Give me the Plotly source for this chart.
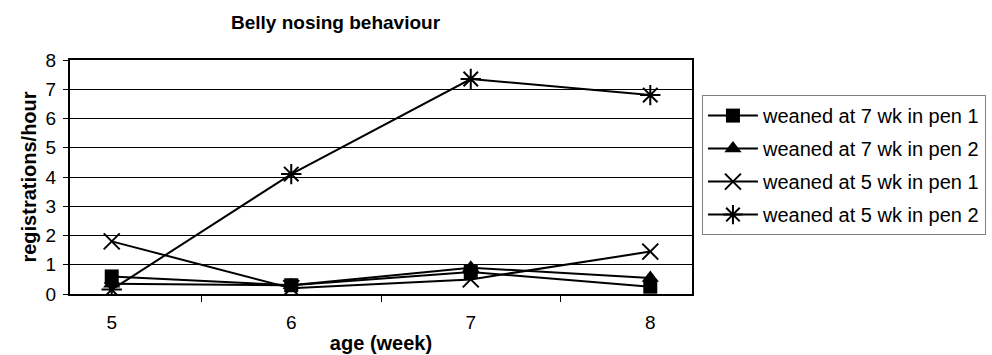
import plotly.graph_objects as go

# Belly nosing registrations per hour by age (weeks)
ages = ["5", "6", "7", "8"]
weaned7_pen1 = [0.6, 0.3, 0.75, 0.25]
weaned7_pen2 = [0.35, 0.3, 0.9, 0.55]
weaned5_pen1 = [1.8, 0.2, 0.5, 1.45]
weaned5_pen2 = [0.15, 4.1, 7.35, 6.8]

series_names = [
    "weaned at 7 wk in pen 1",
    "weaned at 7 wk in pen 2",
    "weaned at 5 wk in pen 1",
    "weaned at 5 wk in pen 2",
]
y_ticks = [0, 1, 2, 3, 4, 5, 6, 7, 8]

FONT = "Liberation Sans, Arial, sans-serif"

series = [
    (series_names[0], weaned7_pen1, dict(symbol="square", size=14, color="black")),
    (series_names[1], weaned7_pen2, dict(symbol="triangle-up", size=15, color="black")),
    (series_names[2], weaned5_pen1, dict(symbol="x-thin-open", size=16, color="black",
                                         line=dict(width=2, color="black"))),
    (series_names[3], weaned5_pen2, dict(symbol="asterisk-open", size=17, color="black",
                                         line=dict(width=2, color="black"))),
]

fig = go.Figure()
for i, (name, vals, marker) in enumerate(series):
    fig.add_trace(go.Scatter(
        x=ages, y=vals, name=name, mode="lines+markers",
        line=dict(color="black", width=2),
        marker=marker,
        legendgroup=f"g{i}",
    ))

fig.update_layout(
    width=992, height=355,
    margin=dict(l=70, r=300, t=60, b=61, autoexpand=False),
    paper_bgcolor="white", plot_bgcolor="white",
    font=dict(family=FONT, color="black", size=19),
    showlegend=True,
    legend=dict(
        x=1.016, xanchor="left", y=0.85, yanchor="top",
        bordercolor="#808080", borderwidth=1,
        font=dict(size=20, family=FONT),
        tracegroupgap=4,
        traceorder="grouped",
        itemwidth=50,
    ),
    annotations=[dict(
        text="<b>Belly nosing behaviour</b>", xref="paper", yref="paper",
        x=(336 - 70) / 622, y=1, yshift=38, xanchor="center", yanchor="middle",
        showarrow=False, font=dict(size=19, family=FONT),
    )],
)

fig.update_xaxes(
    type="category", tickson="boundaries", ticks="outside", ticklen=6,
    tickwidth=1, tickcolor="black", ticklabelstandoff=10,
    showline=True, linecolor="black", linewidth=2, mirror=True,
    showgrid=False, automargin=False,
    title=dict(text="<b>age (week)</b>", font=dict(size=20), standoff=4),
)
fig.update_yaxes(
    range=[0, 8], tickvals=y_ticks, ticks="outside", ticklen=5,
    tickwidth=1, tickcolor="black", ticklabelstandoff=3,
    showline=True, linecolor="black", linewidth=2, mirror=True,
    showgrid=True, gridcolor="black", gridwidth=1,
    zeroline=False, automargin=False,
    title=dict(text="<b>registrations/hour</b>", font=dict(size=20), standoff=4),
)

fig.write_html("out.html")
